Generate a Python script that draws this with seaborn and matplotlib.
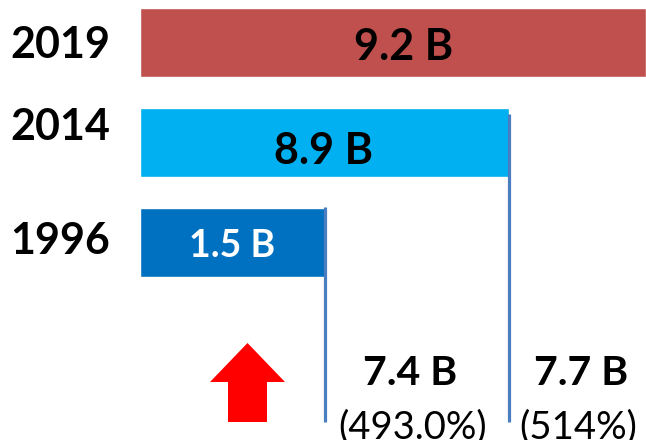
import matplotlib
matplotlib.use("Agg")
import matplotlib.pyplot as plt
import seaborn as sns
import pandas as pd
from matplotlib.patches import Polygon

# Data
years = ["2019", "2014", "1996"]
bar_length = [506, 369, 185]          # drawn bar lengths (as in picture)
bar_labels = ["9.2 B", "8.9 B", "1.5 B"]
bar_colors = ["#C0504D", "#00B0F0", "#0070C0"]
label_colors = ["black", "black", "white"]
growth_labels = ["7.4 B", "7.7 B"]
growth_pct = ["(493.0%)", "(514%)"]

df = pd.DataFrame({"year": years, "length": bar_length})

sns.set_style("white")
plt.rcParams["font.family"] = ["Lato", "DejaVu Sans"]

fig = plt.figure(figsize=(6.46, 4.40), dpi=100)
ax = fig.add_axes([140 / 646, 0, 506 / 646, 1])

sns.barplot(data=df, x="length", y="year", hue="year", order=years,
            palette=dict(zip(years, bar_colors)), saturation=1, width=0.69,
            legend=False, ax=ax, orient="h")

ax.set_xlim(0, 506)
ax.set_ylim(3.97, -0.43)
ax.axis("off")

# bar labels
lab_x = [264, 184, 92]
lab_y = [0.0, 1.04, 2.0]
lab_size = [31, 31, 27]
for i, t in enumerate(bar_labels):
    ax.text(lab_x[i], lab_y[i], t, ha="center", va="center_baseline",
            fontsize=lab_size[i], fontweight="bold", color=label_colors[i])

# year labels
year_y = [-0.01, 0.8, 1.94]
for i, y in enumerate(years):
    ax.text(-80, year_y[i], y, ha="center", va="center_baseline",
            fontsize=31, fontweight="bold", color="black")

# vertical reference lines from bar ends
line_c = "#4A7EC0"
ax.vlines(bar_length[2], 1.64, 3.79, color=line_c, lw=2.3)
ax.vlines(bar_length[1], 0.71, 3.79, color=line_c, lw=2.3)

# growth labels
gx = [270, 441]
gpx = [273, 438]
for i in range(2):
    ax.text(gx[i], 3.27, growth_labels[i], ha="center", va="center_baseline",
            fontsize=29.5, fontweight="bold", color="black")
    ax.text(gpx[i], 3.81, growth_pct[i], ha="center", va="center_baseline",
            fontsize=27.5, color="black")

# red up arrow
arrow = Polygon([(88, 3.79), (127, 3.79), (127, 3.39), (145, 3.39),
                 (107.5, 3.0), (70, 3.39), (88, 3.39)],
                closed=True, facecolor="#FF0000", edgecolor="none")
ax.add_patch(arrow)

fig.savefig("out.png", dpi=100)
